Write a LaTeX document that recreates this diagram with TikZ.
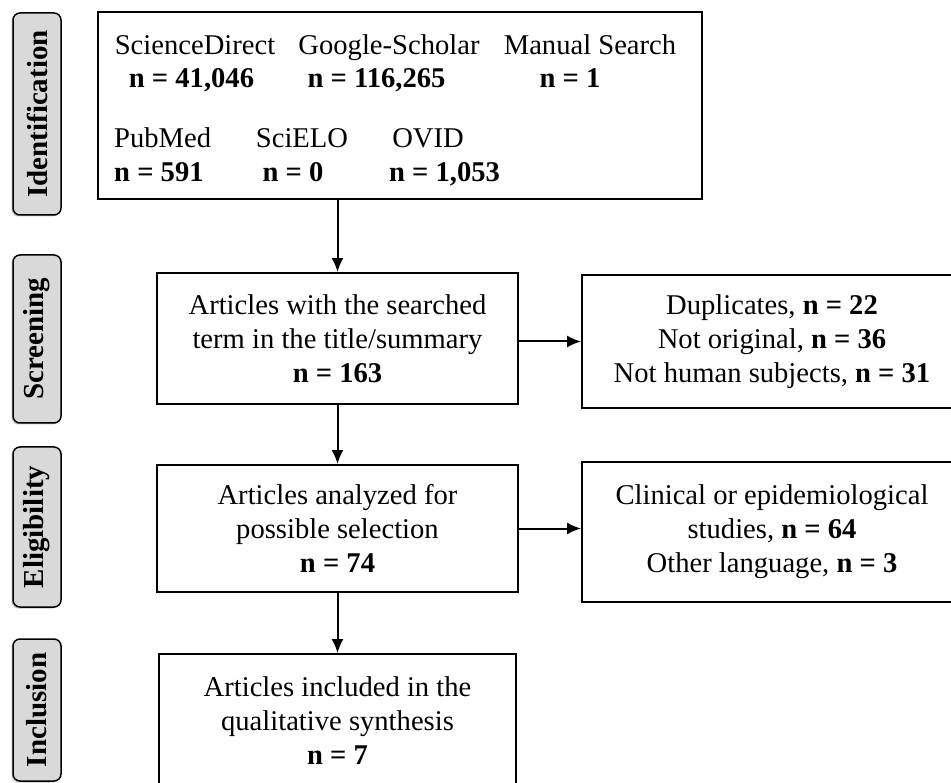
\documentclass[tikz,border=0pt]{standalone}
\usepackage{fontspec}
\setmainfont{Liberation Serif}
\usetikzlibrary{arrows.meta,shadows}

\begin{document}
\begin{tikzpicture}[x=1pt, y=-1pt,
  every node/.style={font=\fontsize{28.6}{34}\selectfont},
  box/.style={draw, line width=1.8pt, align=center, inner sep=0pt},
  src/.style={inner sep=0pt, anchor=base},
  tab/.style={draw, line width=1.5pt, fill=black!15, rounded corners=7pt,
    rotate=90, minimum height=48pt, inner sep=0pt, font=\fontsize{29}{34}\selectfont\bfseries,
    drop shadow={shadow xshift=-1.5pt, shadow yshift=-1.5pt, opacity=0.45}},
  arr/.style={-{Latex[length=14pt,width=12pt]}, line width=2pt}]
\useasboundingbox (0,0) rectangle (951,783);

% side labels
\node (tabid) [tab, minimum width=202pt] at (37,114) {Identification};
\node (tabscr) [tab, minimum width=168pt] at (37,339) {Screening};
\node (tabeli) [tab, minimum width=160pt] at (37,527) {Eligibility};
\node (tabinc) [tab, minimum width=142pt] at (37,710) {Inclusion};

% identification
\node (ident) [box, minimum width=604pt, minimum height=187pt] at (400,105.5) {};
\node (sd) [src] at (195,55) {ScienceDirect};
\node (sdn) [src] at (191.5,88) {\textbf{n = 41,046}};
\node (gs) [src] at (389,55) {Google-Scholar};
\node (gsn) [src] at (376.5,88) {\textbf{n = 116,265}};
\node (ms) [src] at (590,55) {Manual Search};
\node (msn) [src] at (570,88) {\textbf{n = 1}};
\node (pm) [src, anchor=base west] at (114,148) {PubMed};
\node (pmn) [src, anchor=base west] at (114,182) {\textbf{n = 591}};
\node (sc) [src] at (302,148) {SciELO};
\node (scn) [src] at (293,182) {\textbf{n = 0}};
\node (ov) [src] at (428,148) {OVID};
\node (ovn) [src] at (444.5,182) {\textbf{n = 1,053}};

% main column
\node (screen) [box, minimum width=361pt, minimum height=131pt] at (337.5,338.5)
  {Articles with the searched\\term in the title/summary\\\textbf{n = 163}};
\node (elig) [box, minimum width=361pt, minimum height=127pt] at (337.5,528.5)
  {Articles analyzed for\\possible selection\\\textbf{n = 74}};
\node (incl) [box, minimum width=357pt, minimum height=134pt] at (337.5,721)
  {Articles included in the\\qualitative synthesis\\\textbf{n = 7}};

% excluded
\node (excla) [box, minimum width=380pt, minimum height=133pt] at (772,341.5)
  {Duplicates, \textbf{n = 22}\\Not original, \textbf{n = 36}\\Not human subjects, \textbf{n = 31}};
\node (exclb) [box, minimum width=380pt, minimum height=140pt] at (772,532)
  {Clinical or epidemiological\\studies, \textbf{n = 64}\\Other language, \textbf{n = 3}};

\draw[arr] (screen.north |- ident.south) -- (screen.north);
\draw[arr] (screen.south) -- (elig.north);
\draw[arr] (elig.south) -- (incl.north);
\draw[arr] (screen.east |- excla.west) -- (excla.west);
\draw[arr] (elig.east) -- (elig.east -| exclb.west);
\end{tikzpicture}
\end{document}
